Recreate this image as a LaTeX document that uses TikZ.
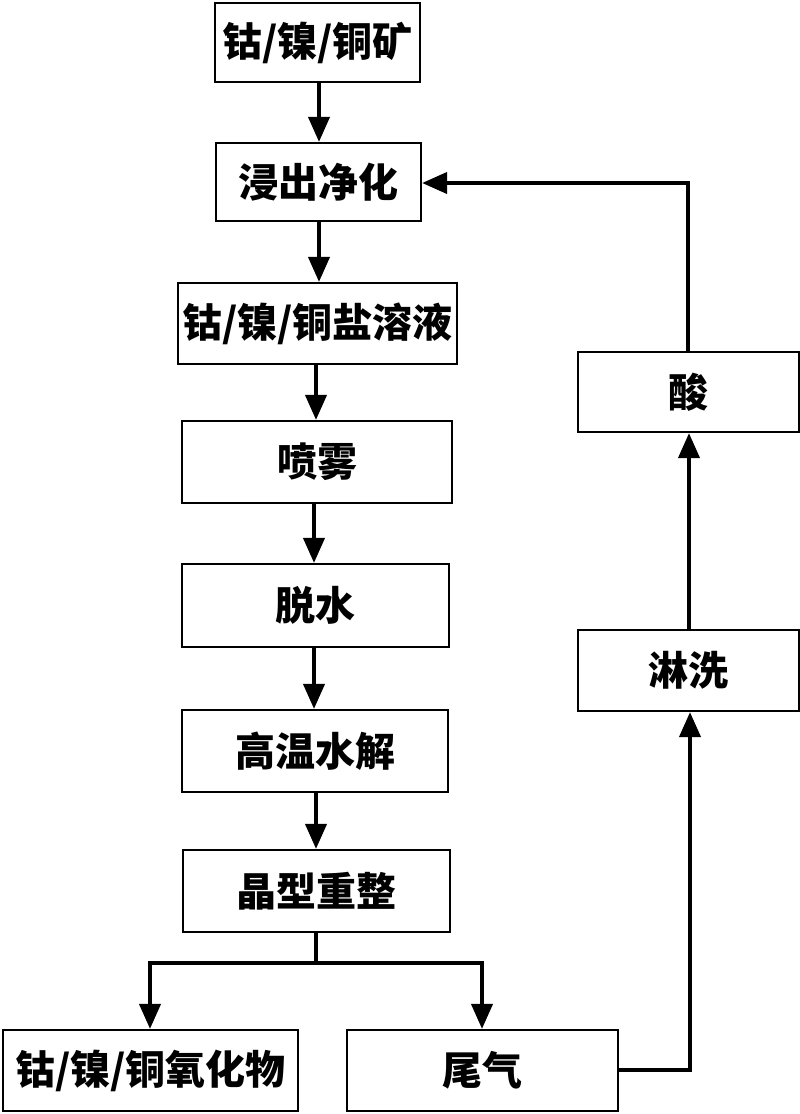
\documentclass[tikz,border=0pt]{standalone}
\usepackage{fontspec}
\setmainfont{Noto Sans CJK SC}
\usetikzlibrary{arrows.meta,calc}
\begin{document}
\begin{tikzpicture}[x=1pt,y=-1pt,
  box/.style={draw=black,line width=2.2pt,fill=white,inner sep=0pt,font=\fontsize{40}{44}\selectfont\bfseries},
  arr/.style={line width=4pt,-{Triangle[length=25pt,width=21pt]}},
  ln/.style={line width=4pt}]
\useasboundingbox (0,0) rectangle (800,1114);
\fill[white] (0,0) rectangle (800,1114);
\newcommand{\bx}[6]{\node[box,minimum width={#4-#2},minimum height={#5-#3}] (#1) at ({(#2+#4)/2},{(#3+#5)/2}) {#6};}
\bx{b1}{215}{3}{420}{82}{钴/镍/铜矿}
\bx{b2}{216}{143}{421}{221}{浸出净化}
\bx{b3}{178}{283}{457}{364}{钴/镍/铜盐溶液}
\bx{b4}{182}{421}{452}{503}{喷雾}
\bx{b5}{182}{564}{449}{647}{脱水}
\bx{b6}{182}{710}{448}{792}{高温水解}
\bx{b7}{183}{850}{450}{932}{晶型重整}
\bx{b8}{3}{1030}{298}{1111}{钴/镍/铜氧化物}
\bx{b9}{347}{1030}{618}{1111}{尾气}
\bx{wash}{578}{630}{799}{711}{淋洗}
\bx{acid}{578}{352}{799}{432}{酸}
\coordinate (sp) at (316,963);
\coordinate (bl) at (150,963);
\coordinate (br) at (482,963);
\coordinate (rx) at (690,1070);
\coordinate (tp) at (688,183);
\draw[arr] (b1.south -| 319,0) -- (b2.north -| 319,0);
\draw[arr] (b2.south -| 319,0) -- (b3.north -| 319,0);
\draw[arr] (b3.south -| 316,0) -- (b4.north -| 316,0);
\draw[arr] (b4.south -| 314,0) -- (b5.north -| 314,0);
\draw[arr] (b5.south -| 314,0) -- (b6.north -| 314,0);
\draw[arr] (b6.south -| 316,0) -- (b7.north -| 316,0);
\draw[ln] (b7.south -| sp) -- (sp);
\draw[ln,line cap=rect] (bl) -- (br);
\draw[arr] (bl) -- (bl |- b8.north);
\draw[arr] (br) -- (br |- b9.north);
\draw[arr] (b9.east |- rx) -| (rx |- wash.south);
\draw[arr] (wash.north -| 689,0) -- (acid.south -| 689,0);
\draw[arr] (acid.north -| tp) |- (b2.east |- tp);
\end{tikzpicture}
\end{document}
